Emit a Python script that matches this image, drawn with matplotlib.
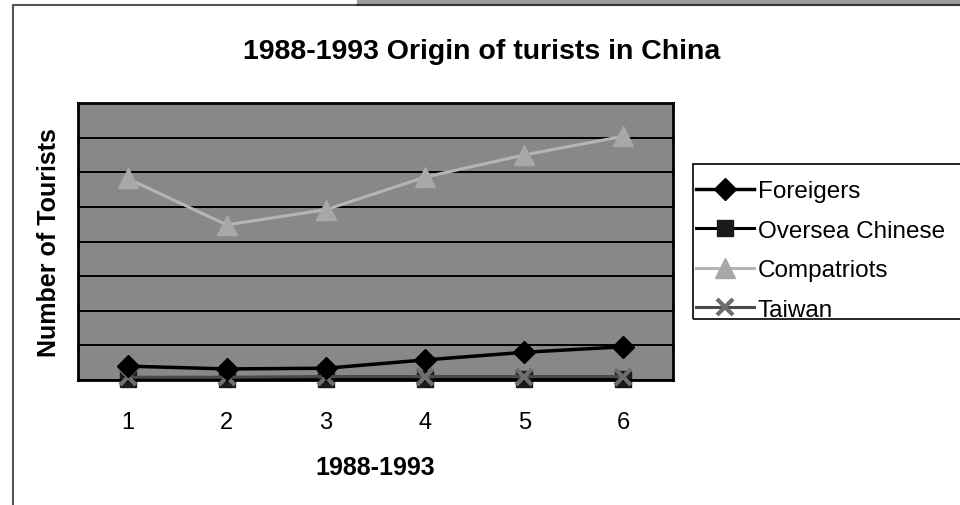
import matplotlib.pyplot as plt
from matplotlib.lines import Line2D
from matplotlib.patches import Rectangle

plt.rcParams['font.family'] = ['Liberation Sans', 'DejaVu Sans']

years = [1, 2, 3, 4, 5, 6]
# millions of visitors (gridlines every 5)
foreigners = [2.0, 1.6, 1.7, 2.9, 4.0, 4.8]
overseas_chinese = [0.1, 0.1, 0.1, 0.1, 0.1, 0.1]
compatriots = [29.1, 22.4, 24.6, 29.3, 32.5, 35.2]
taiwan = [0.4, 0.4, 0.5, 0.5, 0.5, 0.5]

fig = plt.figure(figsize=(9.6, 5.06), dpi=100)
ax = fig.add_axes([78 / 960, 1 - 381 / 506, 595 / 960, 277 / 506])

ax.set_facecolor('#888888')
ax.set_xlim(0.5, 6.5)
ax.set_ylim(0, 40)
ax.set_yticks(range(0, 41, 5))
ax.yaxis.grid(True, color='black', linewidth=1.4)
ax.set_axisbelow(True)
ax.tick_params(axis='y', length=0, labelleft=False)
ax.set_xticks(years)
ax.tick_params(axis='x', length=0, pad=22, labelsize=17)
for sp in ax.spines.values():
    sp.set_linewidth(2)
    sp.set_color('black')

ax.plot(years, compatriots, color='#b5b5b5', lw=2.2, marker='^', ms=15,
        mfc='#a8a8a8', mec='#a8a8a8', label='Compatriots', clip_on=False, zorder=3)
ax.plot(years, taiwan, color='#4a4a4a', lw=2.2, marker='x', ms=12, mew=3,
        mec='#6e6e6e', label='Taiwan', clip_on=False, zorder=3)
ax.plot(years, overseas_chinese, color='black', lw=2.2, marker='s', ms=11,
        mfc='#1a1a1a', mec='#1a1a1a', label='Oversea Chinese', clip_on=False, zorder=2)
ax.plot(years, foreigners, color='black', lw=2.5, marker='D', ms=11,
        label='Foreigers', clip_on=False, zorder=4)

ax.set_xlabel('1988-1993', fontsize=18, fontweight='bold', labelpad=16)
ax.set_ylabel('Number of Tourists', fontsize=18, fontweight='bold', labelpad=12)
fig.text(482 / 960, 1 - 52 / 506, '1988-1993 Origin of turists in China',
         ha='center', va='center', fontsize=20.5, fontweight='bold')

handles, labels = ax.get_legend_handles_labels()
order = [3, 2, 0, 1]
leg = fig.legend([handles[i] for i in order], [labels[i] for i in order],
                 loc='upper left', bbox_to_anchor=(696 / 960, 1 - 181 / 506),
                 fontsize=17.5, frameon=False,
                 handlelength=2.4, handletextpad=0.15, labelspacing=0.72,
                 borderpad=0, borderaxespad=0)
# legend box, runs off the right edge as in the original
fig.add_artist(Rectangle((693 / 960, 1 - 320 / 506), 280 / 960, 155 / 506,
                         transform=fig.transFigure, facecolor='none',
                         edgecolor='black', lw=1.2))

# chart border and the strip at the top
fig.add_artist(Line2D([13 / 960, 13 / 960, 356 / 960], [0, 1 - 6 / 506, 1 - 6 / 506],
                      transform=fig.transFigure, color='#555555', lw=1.5))
fig.add_artist(Rectangle((357 / 960, 1 - 6 / 506), 603 / 960, 6 / 506,
                         transform=fig.transFigure, facecolor='#9a9a9a',
                         edgecolor='none'))
fig.add_artist(Line2D([357 / 960, 1], [1 - 6 / 506, 1 - 6 / 506],
                      transform=fig.transFigure, color='#333333', lw=1.5))

fig.savefig('out.png', dpi=100)
